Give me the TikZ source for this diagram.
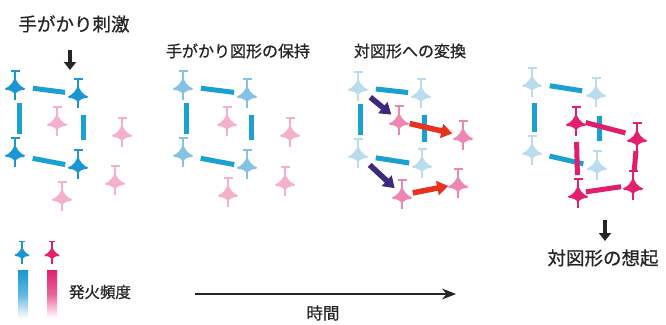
\documentclass[tikz,border=0pt]{standalone}
\usepackage{fontspec}
\setmainfont{Noto Sans CJK JP}[FakeBold=0.7]
\usetikzlibrary{arrows.meta}
\definecolor{nblue}{HTML}{1A96D4}
\definecolor{nbluemid}{HTML}{86C3E3}
\definecolor{nbluelt}{HTML}{BBDCEE}
\definecolor{npinklt}{HTML}{F5B0CB}
\definecolor{npinkmid}{HTML}{EE86B2}
\definecolor{nmag}{HTML}{E3206F}
\definecolor{barblue}{HTML}{1BA0D2}
\definecolor{barmag}{HTML}{E01E6E}
\definecolor{arrpurple}{HTML}{3B2A80}
\definecolor{arrred}{HTML}{E8321E}
\definecolor{txt}{HTML}{262626}
\tikzset{
  x=1pt, y=-1pt,
  neuron/.pic={
    \draw[pic actions, line width=1.2pt] (-4.5,-15) -- (4.5,-15);
    \draw[pic actions, line width=1.6pt] (0,-15) -- (0,-6);
    \fill[pic actions] (0,-9) .. controls (1.8,-4) and (4.5,0.5) .. (10,2.5)
      -- (9,4) .. controls (5,4) and (3,5) .. (0,8)
      .. controls (-3,5) and (-5,4) .. (-9,4)
      -- (-10,2.5) .. controls (-4.5,0.5) and (-1.8,-4) .. cycle;
    \draw[pic actions, line width=1.6pt] (0,6) -- (0,14);
  },
  bar/.style={line width=5pt},
  bluebar/.style={bar, barblue},
  magbar/.style={bar, barmag},
  cue/.style={line width=4.5pt, txt, -{Triangle[width=12pt,length=8pt]}},
  shift arrow/.style={line width=5.5pt, -{Triangle[width=14pt,length=11pt]}},
  label/.style={text=txt, inner sep=0pt},
}
\begin{document}
\begin{tikzpicture}
\useasboundingbox (0,0) rectangle (666,324);
\fill[white] (0,0) rectangle (666,324);

% ---- stage 1: cue stimulus ----
\node[label, font=\fontsize{18.5}{20}\selectfont] (t1) at (74,24) {手がかり刺激};
\coordinate (k1s) at (70,50);
\coordinate (k1e) at (70,70);
\draw[cue] (k1s) -- (k1e);
\coordinate (a1) at (15,86);  \coordinate (b1) at (78,94);
\coordinate (c1) at (15,153); \coordinate (d1) at (78,165);
\coordinate (p1) at (57,122); \coordinate (q1) at (122,133);
\coordinate (r1) at (115,181); \coordinate (s1) at (62,197);
\foreach \n in {p1,q1,r1,s1} \pic[color=npinklt] at (\n) {neuron};
\draw[bluebar, shorten <=18pt, shorten >=13pt] (a1) -- (b1);
\draw[bluebar, shorten <=17pt, shorten >=19pt] ([xshift=4]a1) -- ([xshift=4]c1);
\draw[bluebar, shorten <=21pt, shorten >=25pt] ([xshift=5]b1) -- ([xshift=5]d1);
\draw[bluebar, shorten <=18pt, shorten >=13pt] ([yshift=-2]c1) -- ([yshift=-2]d1);
\foreach \n in {a1,b1,c1,d1} \pic[color=nblue] at (\n) {neuron};

% ---- stage 2: holding the cue figure ----
\node[label, font=\fontsize{16}{18}\selectfont] (t2) at (238,51) {手がかり図形の保持};
\coordinate (a2) at (183,86);  \coordinate (b2) at (247,94);
\coordinate (c2) at (183,153); \coordinate (d2) at (247,165);
\coordinate (p2) at (227,122); \coordinate (q2) at (290,133);
\coordinate (r2) at (285,182); \coordinate (s2) at (228,193);
\foreach \n in {p2,q2,r2,s2} \pic[color=npinklt] at (\n) {neuron};
\draw[bluebar, shorten <=18pt, shorten >=13pt] (a2) -- (b2);
\draw[bluebar, shorten <=17pt, shorten >=19pt] ([xshift=3]a2) -- ([xshift=3]c2);
\draw[bluebar, shorten <=21pt, shorten >=25pt] ([xshift=4]b2) -- ([xshift=4]d2);
\draw[bluebar, shorten <=18pt, shorten >=13pt] ([yshift=-2]c2) -- ([yshift=-2]d2);
\foreach \n in {a2,b2,c2,d2} \pic[color=nbluemid] at (\n) {neuron};

% ---- stage 3: conversion to the pair figure ----
\node[label, font=\fontsize{16}{18}\selectfont] (t3) at (410,51) {対図形への変換};
\coordinate (a3) at (358,87);  \coordinate (b3) at (421,94);
\coordinate (c3) at (358,154); \coordinate (d3) at (422,164);
\coordinate (p3) at (399,121); \coordinate (q3) at (463,136);
\coordinate (r3) at (458,184); \coordinate (s3) at (402,195);
\draw[bluebar, shorten <=18pt, shorten >=13pt] (a3) -- (b3);
\draw[bluebar, shorten <=17pt, shorten >=19pt] ([xshift=2]a3) -- ([xshift=2]c3);
\draw[bluebar, shorten <=21pt, shorten >=22pt] ([xshift=3]b3) -- ([xshift=3]d3);
\draw[bluebar, shorten <=18pt, shorten >=13pt] ([yshift=-1]c3) -- ([yshift=-1]d3);
\foreach \n in {a3,b3,c3,d3} \pic[color=nbluelt] at (\n) {neuron};
\foreach \n in {p3,q3,r3,s3} \pic[color=npinkmid] at (\n) {neuron};
\draw[shift arrow, arrpurple, shorten <=16pt, shorten >=10pt] (a3) -- (p3);
\draw[shift arrow, arrpurple, shorten <=16pt, shorten >=10pt] (c3) -- (s3);
\draw[shift arrow, arrred, shorten <=11pt, shorten >=11pt] (p3) -- (q3);
\draw[shift arrow, arrred, shorten <=11pt, shorten >=10pt] (s3) -- (r3);

% ---- stage 4: recall of the pair figure ----
\coordinate (a4) at (532,83);  \coordinate (b4) at (596,93);
\coordinate (c4) at (532,151); \coordinate (d4) at (597,166);
\coordinate (p4) at (576,122); \coordinate (q4) at (637,138);
\coordinate (r4) at (633,186); \coordinate (s4) at (578,194);
\draw[bluebar, shorten <=18pt, shorten >=14pt] (a4) -- (b4);
\draw[bluebar, shorten <=20pt, shorten >=19pt] ([xshift=2]a4) -- ([xshift=2]c4);
\draw[bluebar, shorten <=23pt, shorten >=25pt] ([xshift=3]b4) -- ([xshift=3]d4);
\draw[bluebar, shorten <=18pt, shorten >=14pt] ([yshift=-1]c4) -- ([yshift=-1]d4);
\foreach \n in {a4,b4,c4,d4} \pic[color=nbluelt] at (\n) {neuron};
\draw[magbar, shorten <=10pt, shorten >=12pt] ([yshift=2]p4) -- ([yshift=2]q4);
\draw[magbar, shorten <=20pt, shorten >=19pt] (p4) -- (s4);
\draw[magbar, shorten <=13pt, shorten >=16pt] (q4) -- (r4);
\draw[magbar, shorten <=8pt, shorten >=12pt] ([yshift=1]s4) -- ([yshift=1]r4);
\foreach \n in {p4,q4,r4,s4} \pic[color=nmag] at (\n) {neuron};
\coordinate (k4s) at (605,220);
\coordinate (k4e) at (605,241);
\draw[cue] (k4s) -- (k4e);
\node[label, font=\fontsize{18.5}{20}\selectfont] (t4) at (603,258) {対図形の想起};

% ---- legend: firing rate ----
\coordinate (la) at (22,253);
\coordinate (lb) at (52,253);
\pic[color=nblue, scale=0.75] at (la) {neuron};
\pic[color=nmag, scale=0.75] at (lb) {neuron};
\shade[top color=nblue, bottom color=white, middle color=nblue!70] (18,270) rectangle (28,318);
\shade[top color=nmag, bottom color=white, middle color=nmag!70] (47,270) rectangle (57,318);
\node[label, font=\fontsize{15.5}{17}\selectfont] (lt) at (100,292) {発火頻度};

% ---- time axis ----
\coordinate (ts) at (195,294);
\coordinate (te) at (456,294);
\draw[line width=1.5pt, txt, -{Stealth[length=14pt,width=11pt]}] (ts) -- (te);
\node[label, font=\fontsize{16.5}{18}\selectfont] (tt) at (323,313) {時間};
\end{tikzpicture}
\end{document}
